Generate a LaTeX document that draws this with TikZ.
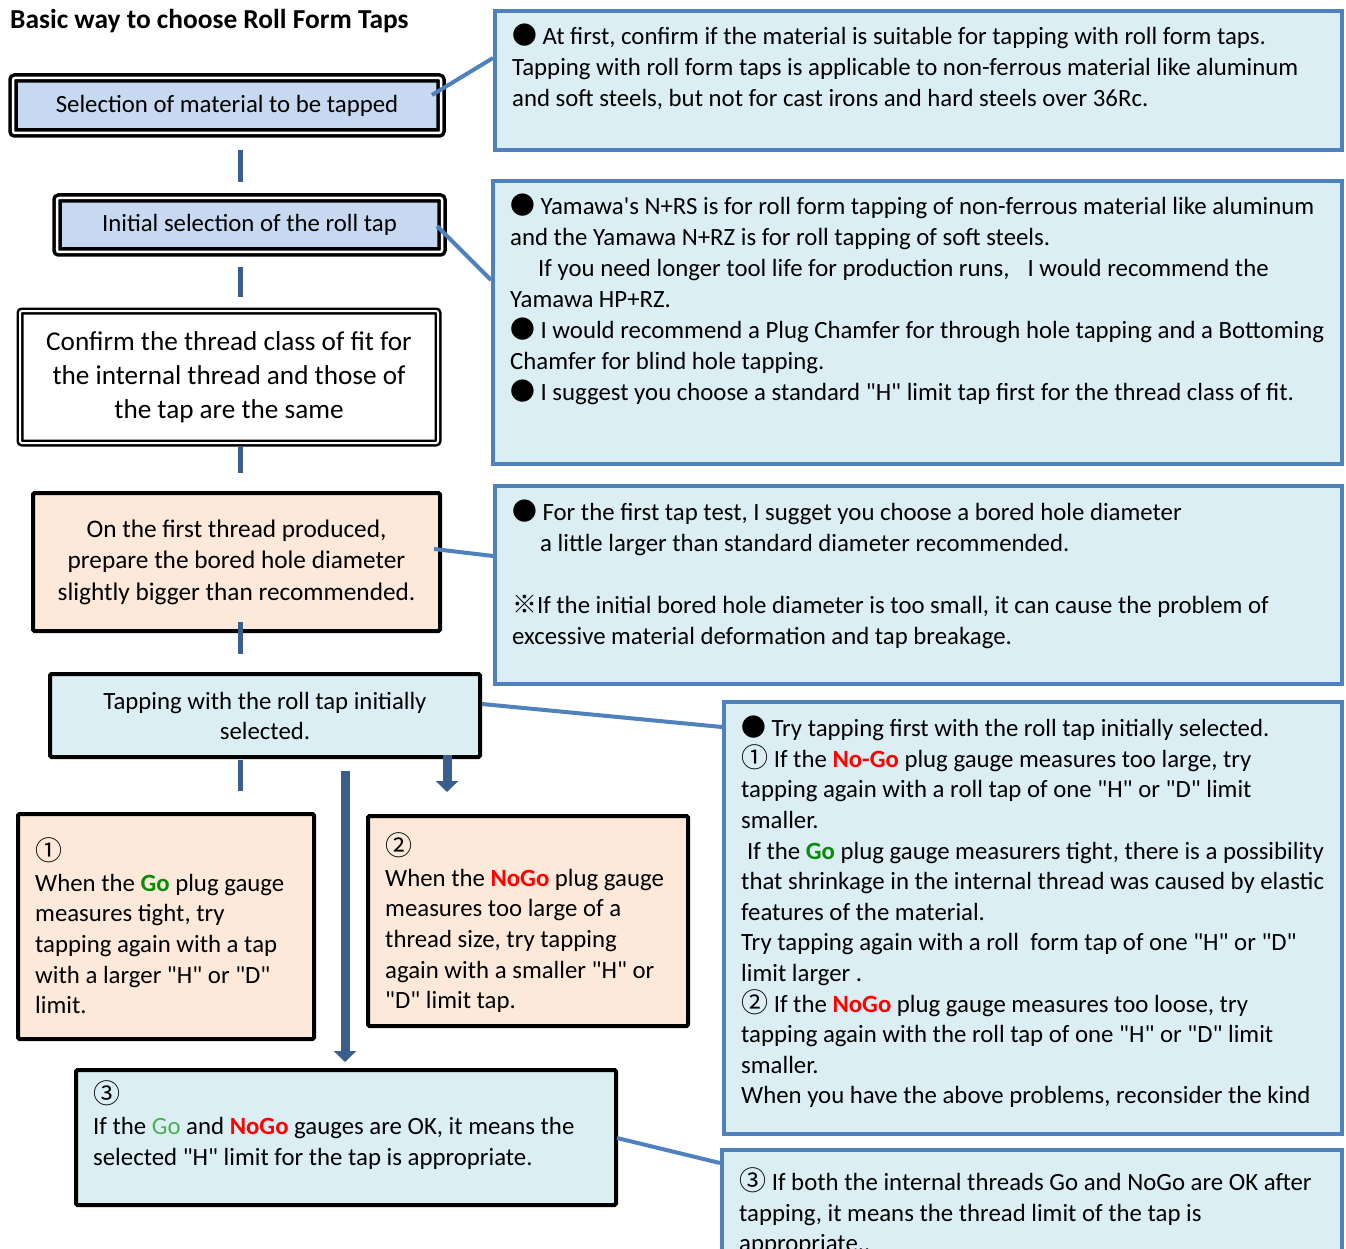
\documentclass[tikz,border=0pt]{standalone}
\usepackage{fontspec}
\setmainfont{Carlito}[Ligatures=TeXOff]
\newfontfamily\cjk{Noto Sans CJK JP}
\usetikzlibrary{arrows.meta}
\definecolor{calloutcol}{HTML}{4F81BD}
\definecolor{conncol}{HTML}{3A5F8C}
\definecolor{paleblue}{HTML}{C6D9F1}
\definecolor{peach}{HTML}{FDE9D9}
\definecolor{aqua}{HTML}{DBEEF4}
\definecolor{gored}{HTML}{FF0000}
\definecolor{godark}{HTML}{0A8A0A}
\definecolor{golight}{HTML}{4CB050}
\newcommand\bul{{\cjk ●}}
\newcommand\cn[1]{\smash{\cjk\fontsize{27}{30}\selectfont #1}}
\newcommand\rd[1]{\textbf{\textcolor{gored}{#1}}}
\newcommand\gd[1]{\textbf{\textcolor{godark}{#1}}}
\begin{document}
\begin{tikzpicture}[x=1pt,y=-1pt,
  every node/.style={font=\fontsize{24.8}{31}\selectfont},
  dbox/.style={draw=black, double=white, line width=3.5pt, double distance=2.5pt, rounded corners=2pt, inner sep=0pt},
  bbox/.style={draw=black, line width=4pt, rounded corners=1.5pt, inner sep=0pt},
  rbox/.style={draw=calloutcol, fill=aqua, line width=4pt, inner sep=0pt},
  txt/.style={anchor=north west, inner sep=0pt, align=left},
  connline/.style={draw=conncol, line width=5pt},
  coline/.style={draw=calloutcol, line width=4pt},
  bigarrow/.style={draw=conncol, line width=9pt, -{Triangle[width=22pt,length=11pt]}}
]
\useasboundingbox (0,0) rectangle (1346,1249);
\fill[white] (0,0) rectangle (1346,1249);

% title
\node[anchor=base west, inner sep=0pt, font=\bfseries\fontsize{27.4}{30}\selectfont] (title) at (10,29) {Basic way to choose Roll Form Taps};

% left flow boxes
\node[dbox, fill=paleblue, minimum width=428, minimum height=55] (sel) at (227,105.5) {Selection of material to be tapped};
\node[dbox, fill=paleblue, minimum width=385, minimum height=54] (init) at (249.5,225) {Initial selection of the roll tap};
\node[dbox, line width=2.5pt, double distance=2pt, fill=white, minimum width=418, minimum height=132, align=center, font=\fontsize{27.2}{34}\selectfont] (conf) at (229,377) {Confirm the thread class of fit for\\the internal thread and those of\\the tap are the same};
\node[bbox, fill=peach, minimum width=407, minimum height=138, align=center, font=\fontsize{25.3}{31.5}\selectfont] (bored) at (236.5,562) {On the first thread produced,\\prepare the bored hole diameter\\slightly bigger than recommended.};
\node[bbox, fill=aqua, minimum width=430, minimum height=83, align=center, font=\fontsize{24.8}{30}\selectfont] (tapi) at (265,715.5) {Tapping with the roll tap initially\\selected.};

\node[bbox, fill=peach, minimum width=296, minimum height=225] (one) at (166,926.5) {};
\node[txt, font=\fontsize{24.8}{30.6}\selectfont] (onet) at (35,839) {\strut\cn{①}\\When the \gd{Go} plug gauge\\measures tight, try\\tapping again with a tap\\with a larger "H" or "D"\\limit.};

\node[bbox, fill=peach, minimum width=320, minimum height=210] (two) at (528,921) {};
\node[txt, font=\fontsize{24.8}{30.6}\selectfont] (twot) at (385,834) {\strut\cn{②}\\When the \rd{NoGo} plug gauge\\measures too large of a\\thread size, try tapping\\again with a smaller "H" or\\"D" limit tap.};

\node[bbox, fill=aqua, minimum width=540, minimum height=135] (three) at (346,1137.5) {};
\node[txt, font=\fontsize{24.8}{31}\selectfont] (threet) at (93,1082) {\strut\cn{③}\\If the \textcolor{golight}{Go} and \rd{NoGo} gauges are OK, it means the\\selected "H" limit for the tap is appropriate.};

% right explanation boxes
\node[rbox, minimum width=847, minimum height=139] (r1) at (918.5,80.5) {};
\node[txt] (r1t) at (512,23) {\strut\bul\ At first, confirm if the material is suitable for tapping with roll form taps.\\Tapping with roll form taps is applicable to non-ferrous material like aluminum\\and soft steels, but not for cast irons and hard steels over 36Rc.};

\node[rbox, minimum width=849, minimum height=283] (r2) at (917.5,322.5) {};
\node[txt] (r2t) at (510,193) {\strut\bul\ Yamawa's N+RS is for roll form tapping of non-ferrous material like aluminum\\and the Yamawa N+RZ is for roll tapping of soft steels.\\\hspace*{28pt}If you need longer tool life for production runs,\hspace{18pt}I would recommend the\\Yamawa HP+RZ.\\\bul\ I would recommend a Plug Chamfer for through hole tapping and a Bottoming\\Chamfer for blind hole tapping.\\\bul\ I suggest you choose a standard "H" limit tap first for the thread class of fit.};

\node[rbox, minimum width=847, minimum height=198] (r3) at (918.5,585) {};
\node[txt] (r3t) at (512,499) {\strut\bul\ For the first tap test, I sugget you choose a bored hole diameter\\\hspace*{28pt}a little larger than standard diameter recommended.\\[31pt]{\cjk ※}If the initial bored hole diameter is too small, it can cause the problem of\\excessive material deformation and tap breakage.};

\node[rbox, minimum width=618, minimum height=432] (r4) at (1033,918) {};
\node[txt, font=\fontsize{24.8}{30.6}\selectfont] (r4t) at (741,715) {\strut\bul\ Try tapping first with the roll tap initially selected.\\\cn{①} If the \rd{No-Go} plug gauge measures too large, try\\tapping again with a roll tap of one "H" or "D" limit\\smaller.\\\hspace*{6pt}If the \gd{Go} plug gauge measurers tight, there is a possibility\\that shrinkage in the internal thread was caused by elastic\\features of the material.\\Try tapping again with a roll\ \ form tap of one "H" or "D"\\limit larger .\\\cn{②} If the \rd{NoGo} plug gauge measures too loose, try\\tapping again with the roll tap of one "H" or "D" limit\\smaller.\\When you have the above problems, reconsider the kind};

\begin{scope}
\clip (0,0) rectangle (1346,1249);
\node[rbox, minimum width=620, minimum height=118] (r5) at (1032,1209) {};
\node[txt, font=\fontsize{24.8}{30.6}\selectfont] (r5t) at (739,1169) {\strut\cn{③} If both the internal threads Go and NoGo are OK after\\tapping, it means the thread limit of the tap is\\appropriate..};
\end{scope}

% vertical connectors
\coordinate (v1a) at (240,150); \coordinate (v1b) at (240,182);
\coordinate (v2a) at (240,267); \coordinate (v2b) at (240,297);
\coordinate (v3a) at (240,447); \coordinate (v3b) at (240,473);
\coordinate (v4a) at (240,622); \coordinate (v4b) at (240,654);
\coordinate (v5a) at (240,760); \coordinate (v5b) at (240,791);
\draw[connline] (v1a) -- (v1b);
\draw[connline] (v2a) -- (v2b);
\draw[connline] (v3a) -- (v3b);
\draw[connline] (v4a) -- (v4b);
\draw[connline] (v5a) -- (v5b);

% arrows
\coordinate (a1a) at (345,771); \coordinate (a1b) at (345,1062);
\coordinate (a2a) at (447,755); \coordinate (a2b) at (447,792);
\draw[bigarrow] (a1a) -- (a1b);
\draw[bigarrow] (a2a) -- (a2b);

% callout lines
\coordinate (c1a) at (432,95);   \coordinate (c1b) at (493,58);
\coordinate (c2a) at (437,226);  \coordinate (c2b) at (491,280);
\coordinate (c3a) at (434,549);  \coordinate (c3b) at (493,556);
\coordinate (c4a) at (482,704);  \coordinate (c4b) at (722,727);
\coordinate (c5a) at (617,1138); \coordinate (c5b) at (720,1163);
\draw[coline] (c1a) -- (c1b);
\draw[coline] (c2a) -- (c2b);
\draw[coline] (c3a) -- (c3b);
\draw[coline] (c4a) -- (c4b);
\draw[coline] (c5a) -- (c5b);
\end{tikzpicture}
\end{document}
